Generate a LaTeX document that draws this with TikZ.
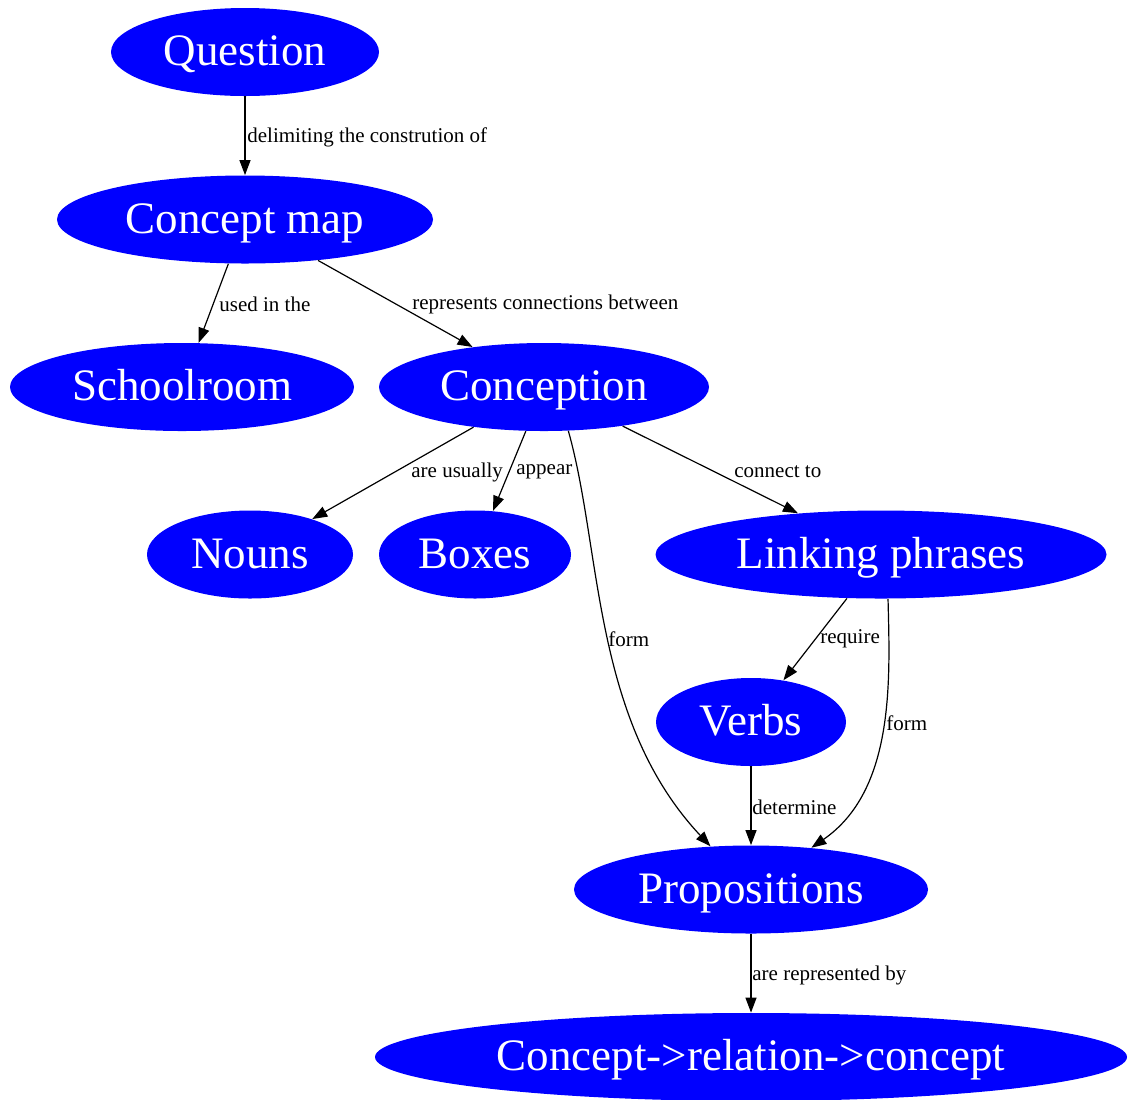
\documentclass[tikz,border=0pt]{standalone}
\usepackage{fontspec}
\setmainfont{Liberation Serif}
\usetikzlibrary{shapes.geometric,arrows.meta}

\tikzset{
  concept/.style={ellipse, fill=blue, draw=none, text=white, inner sep=0pt,
    minimum height=44pt, text height=13.5pt, text depth=0pt,
    font=\fontsize{22.5}{27}\selectfont},
  link/.style={-{Triangle[length=7.5pt,width=5.5pt]}, line width=0.6pt},
  lbl/.style={anchor=west, inner sep=0pt, font=\fontsize{10.5}{12.5}\selectfont},
}

\begin{document}
\begin{tikzpicture}[x=0.5pt, y=-0.5pt]
        \useasboundingbox (0,0) rectangle (1128,1099);

        % Concepts
        \node[concept, minimum width=134pt] (question) at (245,52) {Question};
        \node[concept, minimum width=188pt] (cmap) at (245,219.5) {Concept map};
        \node[concept, minimum width=172pt] (school) at (182,387) {Schoolroom};
        \node[concept, minimum width=165pt] (conception) at (544,387) {Conception};
        \node[concept, minimum width=103pt] (nouns) at (250,554.5) {Nouns};
        \node[concept, minimum width=96pt] (boxes) at (475,554.5) {Boxes};
        \node[concept, minimum width=225.5pt] (linking) at (881,554.5) {Linking phrases};
        \node[concept, minimum width=95pt] (verbs) at (751,722) {Verbs};
        \node[concept, minimum width=177pt] (props) at (751,889.5) {Propositions};
        \node[concept, minimum width=376pt] (crc) at (751,1057) {Concept->relation->concept};

        % Straight links
        \draw[link] (question) -- (cmap);
        \draw[link] (cmap) -- (school);
        \draw[link] (cmap) -- (conception);
        \draw[link] (conception) -- (nouns);
        \draw[link] (conception) -- (boxes);
        \draw[link] (conception) -- (linking);
        \draw[link] (linking) -- (verbs);
        \draw[link] (verbs) -- (props);
        \draw[link] (props) -- (crc);

        % Curved links
        \draw[link] (conception.-61) .. controls (602,550) and (592,720) .. (props);
        \draw[link] (linking.-81) .. controls (890,680) and (895,790) .. (props);

        % Link labels
        \node[lbl] (l-delim) at (247,137) {delimiting the constrution of};
        \node[lbl] (l-used) at (219,304) {used in the};
        \node[lbl] (l-repr) at (412,304) {represents connections between};
        \node[lbl] (l-usually) at (411,472) {are usually};
        \node[lbl] (l-appear) at (516,472) {appear};
        \node[lbl] (l-connect) at (734,472) {connect to};
        \node[lbl] (l-form1) at (608,639) {form};
        \node[lbl] (l-require) at (820,639) {require};
        \node[lbl] (l-form2) at (886,723) {form};
        \node[lbl] (l-determine) at (752,807) {determine};
        \node[lbl] (l-reprby) at (752,975) {are represented by};

    \end{tikzpicture}
\end{document}
